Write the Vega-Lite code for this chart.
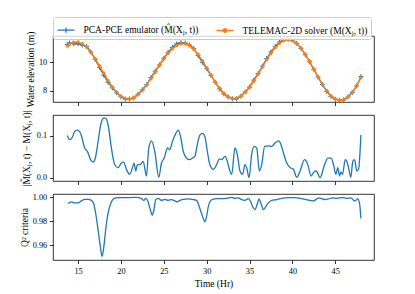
{
"$schema": "https://vega.github.io/schema/vega-lite/v6.json",
"padding": {"left": 18, "top": 16, "right": 5, "bottom": 5},
"spacing": 13,
"bounds": "flush",
"config": {
  "font": "Liberation Serif",
  "view": {"stroke": "black", "strokeWidth": 0.8},
  "axis": {"grid": false, "domain": false, "tickColor": "black", "tickSize": 3.5, "tickWidth": 0.8, "labelFont": "Liberation Serif", "labelFontSize": 8.3, "labelColor": "black", "labelPadding": 2.8, "titleFont": "Liberation Serif", "titleFontSize": 9.5, "titleFontWeight": "normal", "titleColor": "black"}
},
"resolve": {"scale": {"color": "independent"}, "legend": {"color": "independent"}},
"vconcat": [
{
  "width": 321, "height": 66,
  "data": {"values": [
{"t":13.75,"telemac":11.15,"emulator":11.25},{"t":14.0,"telemac":11.27,"emulator":11.36},{"t":14.5,"telemac":11.41,"emulator":11.30},{"t":15.0,"telemac":11.42,"emulator":11.31},{"t":15.5,"telemac":11.30,"emulator":11.21},{"t":16.0,"telemac":11.05,"emulator":11.12},{"t":16.5,"telemac":10.69,"emulator":10.73},{"t":17.0,"telemac":10.25,"emulator":10.20},{"t":17.5,"telemac":9.75,"emulator":9.64},{"t":18.0,"telemac":9.23,"emulator":9.09},{"t":18.5,"telemac":8.72,"emulator":8.60},{"t":19.0,"telemac":8.26,"emulator":8.20},{"t":19.5,"telemac":7.88,"emulator":7.85},{"t":20.0,"telemac":7.60,"emulator":7.57},{"t":20.5,"telemac":7.44,"emulator":7.41},{"t":21.0,"telemac":7.42,"emulator":7.41},{"t":21.5,"telemac":7.51,"emulator":7.48},{"t":22.0,"telemac":7.72,"emulator":7.75},{"t":22.5,"telemac":8.02,"emulator":8.06},{"t":23.0,"telemac":8.40,"emulator":8.41},{"t":23.5,"telemac":8.84,"emulator":8.92},{"t":24.0,"telemac":9.31,"emulator":9.37},{"t":24.5,"telemac":9.79,"emulator":9.81},{"t":25.0,"telemac":10.24,"emulator":10.28},{"t":25.5,"telemac":10.63,"emulator":10.70},{"t":26.0,"telemac":10.95,"emulator":11.04},{"t":26.5,"telemac":11.18,"emulator":11.29},{"t":27.0,"telemac":11.30,"emulator":11.39},{"t":27.5,"telemac":11.31,"emulator":11.36},{"t":28.0,"telemac":11.18,"emulator":11.22},{"t":28.5,"telemac":10.92,"emulator":10.97},{"t":29.0,"telemac":10.56,"emulator":10.47},{"t":29.5,"telemac":10.11,"emulator":10.00},{"t":30.0,"telemac":9.62,"emulator":9.55},{"t":30.5,"telemac":9.11,"emulator":9.08},{"t":31.0,"telemac":8.61,"emulator":8.59},{"t":31.5,"telemac":8.17,"emulator":8.13},{"t":32.0,"telemac":7.82,"emulator":7.77},{"t":32.5,"telemac":7.58,"emulator":7.55},{"t":33.0,"telemac":7.46,"emulator":7.43},{"t":33.5,"telemac":7.48,"emulator":7.42},{"t":34.0,"telemac":7.62,"emulator":7.61},{"t":34.5,"telemac":7.88,"emulator":7.91},{"t":35.0,"telemac":8.24,"emulator":8.25},{"t":35.5,"telemac":8.67,"emulator":8.74},{"t":36.0,"telemac":9.16,"emulator":9.21},{"t":36.5,"telemac":9.68,"emulator":9.72},{"t":37.0,"telemac":10.18,"emulator":10.26},{"t":37.5,"telemac":10.64,"emulator":10.72},{"t":38.0,"telemac":11.04,"emulator":11.12},{"t":38.5,"telemac":11.34,"emulator":11.43},{"t":39.0,"telemac":11.53,"emulator":11.59},{"t":39.5,"telemac":11.60,"emulator":11.63},{"t":40.0,"telemac":11.54,"emulator":11.56},{"t":40.5,"telemac":11.33,"emulator":11.33},{"t":41.0,"telemac":11.00,"emulator":10.98},{"t":41.5,"telemac":10.57,"emulator":10.53},{"t":42.0,"telemac":10.06,"emulator":10.04},{"t":42.5,"telemac":9.51,"emulator":9.50},{"t":43.0,"telemac":8.96,"emulator":8.95},{"t":43.5,"telemac":8.44,"emulator":8.43},{"t":44.0,"telemac":7.99,"emulator":7.95},{"t":44.5,"telemac":7.64,"emulator":7.59},{"t":45.0,"telemac":7.41,"emulator":7.40},{"t":45.5,"telemac":7.32,"emulator":7.32},{"t":46.0,"telemac":7.38,"emulator":7.35},{"t":46.5,"telemac":7.58,"emulator":7.55},{"t":47.0,"telemac":7.90,"emulator":7.87},{"t":47.5,"telemac":8.35,"emulator":8.33},{"t":48.0,"telemac":8.90,"emulator":9.00}
  ]},
  "transform": [{"fold": ["emulator", "telemac"], "as": ["series", "value"]}],
  "encoding": {
    "x": {"field": "t", "type": "quantitative", "scale": {"domain": [12.08, 49.52], "nice": false, "zero": false}, "axis": {"values": [15, 20, 25, 30, 35, 40, 45], "labels": false, "title": null}},
    "y": {"field": "value", "type": "quantitative", "scale": {"domain": [7.2, 11.85], "nice": false, "zero": false}, "axis": {"values": [8, 10], "title": "Water elevation (m)", "titleX": -23, "titleBaseline": "middle"}},
    "color": {"field": "series", "type": "nominal", "scale": {"domain": ["emulator", "telemac"], "range": ["#1f77b4", "#ff7f0e"]},
      "legend": {"orient": "none", "legendX": 0, "legendY": -19, "title": null, "direction": "horizontal",
        "labelExpr": "datum.value === 'emulator' ? 'PCA-PCE emulator (M̂(Xⱼ, t))' : 'TELEMAC-2D solver (M(Xⱼ, t))'",
        "labelFont": "Liberation Serif", "labelFontSize": 9.5, "labelColor": "black", "symbolSize": 289, "symbolStrokeWidth": 1.3,
        "labelOffset": 8, "columnPadding": 15, "padding": 3.5, "strokeColor": "#cccccc", "fillColor": "rgba(255,255,255,0.8)", "cornerRadius": 2,
        "encode": {"symbols": {"update": {
          "shape": {"signal": "datum.value === 'emulator' ? 'M-1,0H1M0,-0.3V0.3' : 'M-1,0H1M-0.22,0A0.22,0.22,0,1,0,0.22,0A0.22,0.22,0,1,0,-0.22,0Z'"},
          "fill": {"signal": "datum.value === 'emulator' ? 'transparent' : '#ff7f0e'"},
          "stroke": {"signal": "datum.value === 'emulator' ? '#1f77b4' : '#ff7f0e'"},
          "strokeWidth": {"value": 1.3}, "opacity": {"value": 1}}}}}}
  },
  "layer": [
    {"transform": [{"filter": "datum.series === 'emulator'"}], "mark": {"type": "line", "strokeWidth": 1.3}},
    {"transform": [{"filter": "datum.series === 'emulator'"}], "mark": {"type": "point", "shape": "M-1,0H1M0,-1V1", "size": 25, "filled": false, "strokeWidth": 1, "opacity": 1}},
    {"transform": [{"filter": "datum.series === 'telemac'"}], "mark": {"type": "line", "strokeWidth": 1.3}},
    {"transform": [{"filter": "datum.series === 'telemac'"}], "mark": {"type": "point", "shape": "circle", "size": 12, "filled": true, "opacity": 1}}
  ]
},
{
  "width": 321, "height": 66,
  "data": {"values": [
{"t":13.75,"err":0.101},{"t":14.02,"err":0.091},{"t":14.3,"err":0.095},{"t":14.6,"err":0.110},{"t":14.92,"err":0.114},{"t":15.19,"err":0.110},{"t":15.47,"err":0.095},{"t":15.77,"err":0.071},{"t":16.09,"err":0.063},{"t":16.47,"err":0.043},{"t":16.75,"err":0.037},{"t":17.02,"err":0.047},{"t":17.34,"err":0.087},{"t":17.64,"err":0.126},{"t":17.92,"err":0.142},{"t":18.1,"err":0.143},{"t":18.31,"err":0.140},{"t":18.58,"err":0.118},{"t":18.89,"err":0.071},{"t":19.28,"err":0.031},{"t":19.67,"err":0.024},{"t":20.06,"err":0.035},{"t":20.33,"err":0.037},{"t":20.64,"err":0.020},{"t":21.03,"err":0.008},{"t":21.35,"err":0.024},{"t":21.54,"err":0.035},{"t":21.73,"err":0.016},{"t":21.93,"err":0.031},{"t":22.2,"err":0.031},{"t":22.6,"err":0.039},{"t":22.98,"err":0.004},{"t":23.25,"err":0.071},{"t":23.57,"err":0.088},{"t":23.95,"err":0.063},{"t":24.42,"err":0.001},{"t":24.73,"err":0.035},{"t":25.05,"err":0.047},{"t":25.44,"err":0.071},{"t":25.7,"err":0.067},{"t":26.02,"err":0.087},{"t":26.41,"err":0.106},{"t":26.69,"err":0.114},{"t":26.96,"err":0.098},{"t":27.27,"err":0.063},{"t":27.57,"err":0.049},{"t":27.97,"err":0.043},{"t":28.36,"err":0.047},{"t":28.63,"err":0.051},{"t":28.91,"err":0.079},{"t":29.21,"err":0.102},{"t":29.53,"err":0.106},{"t":29.8,"err":0.098},{"t":30.08,"err":0.063},{"t":30.38,"err":0.031},{"t":30.78,"err":0.020},{"t":31.16,"err":0.031},{"t":31.48,"err":0.045},{"t":31.75,"err":0.043},{"t":32.13,"err":0.051},{"t":32.41,"err":0.039},{"t":32.65,"err":0.020},{"t":32.92,"err":0.008},{"t":33.3,"err":0.071},{"t":33.58,"err":0.055},{"t":33.89,"err":0.016},{"t":34.2,"err":0.008},{"t":34.47,"err":0.031},{"t":34.67,"err":0.024},{"t":34.94,"err":0.000},{"t":35.25,"err":0.055},{"t":35.52,"err":0.075},{"t":35.84,"err":0.071},{"t":36.15,"err":0.016},{"t":36.42,"err":0.031},{"t":36.77,"err":0.075},{"t":37.2,"err":0.076},{"t":37.59,"err":0.075},{"t":37.98,"err":0.083},{"t":38.37,"err":0.088},{"t":38.68,"err":0.079},{"t":38.96,"err":0.059},{"t":39.34,"err":0.035},{"t":39.73,"err":0.024},{"t":40.12,"err":0.020},{"t":40.51,"err":0.001},{"t":40.9,"err":0.016},{"t":41.41,"err":0.043},{"t":41.8,"err":0.031},{"t":42.18,"err":0.004},{"t":42.46,"err":0.012},{"t":42.77,"err":0.016},{"t":43.23,"err":0.000},{"t":43.75,"err":0.031},{"t":44.13,"err":0.047},{"t":44.52,"err":0.047},{"t":44.8,"err":0.031},{"t":45.07,"err":0.008},{"t":45.3,"err":0.024},{"t":45.5,"err":0.004},{"t":45.65,"err":0.014},{"t":45.85,"err":0.008},{"t":46.16,"err":0.043},{"t":46.35,"err":0.039},{"t":46.55,"err":0.024},{"t":46.82,"err":0.001},{"t":47.05,"err":0.039},{"t":47.25,"err":0.043},{"t":47.52,"err":0.016},{"t":47.72,"err":0.020},{"t":47.99,"err":0.102}
  ]},
  "mark": {"type": "line", "color": "#1f77b4", "strokeWidth": 1.3, "interpolate": "monotone"},
  "encoding": {
    "x": {"field": "t", "type": "quantitative", "scale": {"domain": [12.08, 49.52], "nice": false, "zero": false}, "axis": {"values": [15, 20, 25, 30, 35, 40, 45], "labels": false, "title": null}},
    "y": {"field": "err", "type": "quantitative", "scale": {"domain": [-0.008, 0.15], "nice": false, "zero": false}, "axis": {"values": [0, 0.1], "format": ".1f", "title": "|M̂(Xⱼ, t) − M(Xⱼ, t)|", "titleX": -27, "titleBaseline": "middle"}}
  }
},
{
  "width": 321, "height": 66,
  "data": {"values": [
{"t":13.83,"q2":0.9948},{"t":14.22,"q2":0.9962},{"t":14.6,"q2":0.9954},{"t":15.0,"q2":0.9954},{"t":15.39,"q2":0.997},{"t":15.77,"q2":0.9983},{"t":16.17,"q2":0.9983},{"t":16.55,"q2":0.9975},{"t":16.82,"q2":0.9948},{"t":17.06,"q2":0.9865},{"t":17.34,"q2":0.9727},{"t":17.6,"q2":0.9589},{"t":17.8,"q2":0.9506},{"t":17.99,"q2":0.9575},{"t":18.22,"q2":0.9727},{"t":18.5,"q2":0.9865},{"t":18.81,"q2":0.9948},{"t":19.16,"q2":0.9989},{"t":19.67,"q2":0.9998},{"t":20.26,"q2":0.9998},{"t":21.03,"q2":0.9998},{"t":21.81,"q2":1.0},{"t":22.4,"q2":0.9989},{"t":22.67,"q2":0.9975},{"t":22.9,"q2":0.9992},{"t":23.18,"q2":0.9962},{"t":23.45,"q2":0.9892},{"t":23.65,"q2":0.9851},{"t":23.84,"q2":0.9892},{"t":24.07,"q2":0.9981},{"t":24.35,"q2":0.9992},{"t":24.73,"q2":0.9975},{"t":25.12,"q2":0.9983},{"t":25.52,"q2":0.9975},{"t":25.9,"q2":0.9981},{"t":26.29,"q2":0.997},{"t":26.57,"q2":0.9962},{"t":26.87,"q2":0.9975},{"t":27.27,"q2":0.9983},{"t":27.85,"q2":0.9987},{"t":28.44,"q2":0.9981},{"t":28.83,"q2":0.9975},{"t":29.21,"q2":0.9906},{"t":29.61,"q2":0.9824},{"t":29.8,"q2":0.9796},{"t":29.99,"q2":0.9838},{"t":30.19,"q2":0.9921},{"t":30.46,"q2":0.997},{"t":30.78,"q2":0.9985},{"t":31.16,"q2":0.9989},{"t":31.75,"q2":0.9989},{"t":32.33,"q2":0.9992},{"t":32.92,"q2":1.0},{"t":33.3,"q2":0.9992},{"t":33.7,"q2":0.9995},{"t":34.08,"q2":0.9981},{"t":34.47,"q2":0.9975},{"t":34.87,"q2":0.9989},{"t":35.14,"q2":0.9962},{"t":35.37,"q2":0.9921},{"t":35.64,"q2":0.9898},{"t":35.92,"q2":0.9948},{"t":36.11,"q2":0.9987},{"t":36.34,"q2":0.9948},{"t":36.62,"q2":0.9898},{"t":36.89,"q2":0.9921},{"t":37.2,"q2":0.9954},{"t":37.59,"q2":0.9975},{"t":38.17,"q2":0.9981},{"t":38.76,"q2":0.9992},{"t":39.54,"q2":0.9998},{"t":40.31,"q2":0.9998},{"t":40.9,"q2":0.9992},{"t":41.48,"q2":0.9983},{"t":42.07,"q2":0.9975},{"t":42.46,"q2":0.997},{"t":42.73,"q2":0.9981},{"t":43.05,"q2":0.9995},{"t":43.43,"q2":0.9989},{"t":43.82,"q2":0.9981},{"t":44.22,"q2":0.9987},{"t":44.68,"q2":0.9995},{"t":45.19,"q2":0.9992},{"t":45.77,"q2":0.9998},{"t":46.35,"q2":0.9992},{"t":46.86,"q2":0.9995},{"t":47.14,"q2":0.9975},{"t":47.33,"q2":0.997},{"t":47.61,"q2":0.9987},{"t":47.84,"q2":0.9948},{"t":47.99,"q2":0.9824}
  ]},
  "mark": {"type": "line", "color": "#1f77b4", "strokeWidth": 1.3, "interpolate": "monotone"},
  "encoding": {
    "x": {"field": "t", "type": "quantitative", "scale": {"domain": [12.08, 49.52], "nice": false, "zero": false}, "axis": {"values": [15, 20, 25, 30, 35, 40, 45], "title": "Time (Hr)", "titlePadding": 4}},
    "y": {"field": "q2", "type": "quantitative", "scale": {"domain": [0.9476, 1.0028], "nice": false, "zero": false}, "axis": {"values": [0.96, 0.98, 1.0], "format": ".2f", "title": "Q² criteria", "titleX": -29, "titleBaseline": "middle"}}
  }
}
]
}
